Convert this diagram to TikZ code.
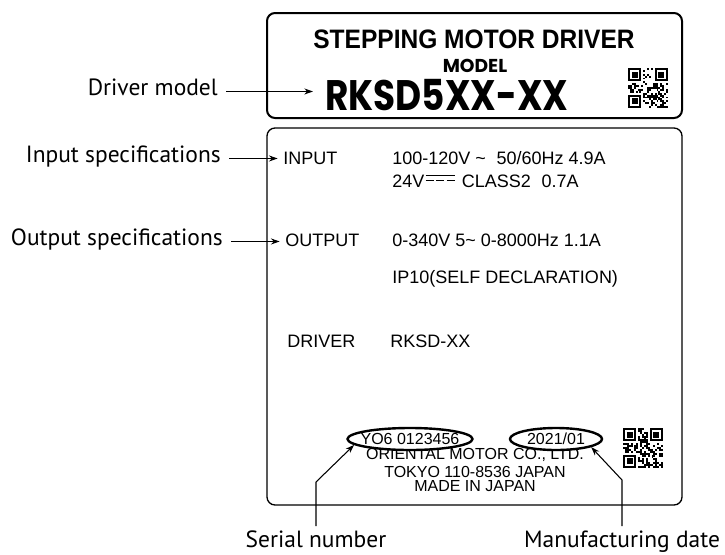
\documentclass[tikz,border=0pt]{standalone}
\usepackage{fontspec}
\usepackage{graphicx}
\setmainfont{Liberation Sans}
\newfontfamily\labfont{PT Sans}
\newfontfamily\platefont{Poppins}
\usetikzlibrary{arrows.meta,shapes.geometric,calc}

% small square code: x, y, seed
\newcommand{\qrpatch}[3]{%
  \pgfmathsetseed{#3}%
  \foreach \qi in {0,...,20}{\foreach \qj in {0,...,20}{%
    \pgfmathtruncatemacro\qbit{rnd<0.48?1:0}%
    \ifnum\qbit=1 \fill ({#1+\qi*1.9},{#2+\qj*1.9}) rectangle ++(1.9,1.9);\fi}}%
  \foreach \fx/\fy in {0/0,14/0,0/14}{%
    \fill[white] ({#1+\fx*1.9-1.9},{#2+\fy*1.9-1.9}) rectangle ++(17.1,17.1);
    \fill ({#1+\fx*1.9},{#2+\fy*1.9}) rectangle ++(13.3,13.3);
    \fill[white] ({#1+\fx*1.9+1.9},{#2+\fy*1.9+1.9}) rectangle ++(9.5,9.5);
    \fill ({#1+\fx*1.9+3.8},{#2+\fy*1.9+3.8}) rectangle ++(5.7,5.7);
  }}

\begin{document}
\begin{tikzpicture}[x=0.75pt,y=0.75pt,yscale=-1,xscale=1,
    ptr/.style={-{Stealth[length=6.5pt,width=4.5pt]},line width=0.8pt,shorten <=6pt},
    lab/.style={font=\labfont\fontsize{17.6}{19}\selectfont,inner sep=0pt},
    spec/.style={font=\fontsize{13.5}{15}\selectfont,inner sep=0pt},
    fine/.style={font=\fontsize{12}{14}\selectfont,inner sep=0pt},
    ring/.style={draw,ellipse,fill=white,line width=1.8pt,inner sep=0pt,minimum height=16.5pt}]

    \useasboundingbox (0,0) rectangle (725,554);

    % the two plates
    \draw [rounded corners=6pt,line width=1.5pt] (267,13) rectangle (682,118);
    \draw [rounded corners=6pt,line width=1pt] (267,128) rectangle (682,505);

    % upper plate
    \node (title) [font=\fontsize{20}{22}\selectfont\bfseries,inner sep=0pt] at (474,39.5) {\scalebox{0.92}[1]{STEPPING MOTOR DRIVER}};
    \node (modelhd) [font=\platefont\fontsize{14}{16}\selectfont\bfseries,inner sep=0pt] at (475,66) {MODEL};
    \node (model) [font=\platefont\fontsize{32}{34}\selectfont\bfseries,inner sep=0pt,anchor=west] at (325,95) {\scalebox{0.84}[1]{RKSD5XX-XX}};
    \qrpatch{628}{68}{17}

    % lower plate
    \node (input) [spec,anchor=base west] at (283,164) {INPUT};
    \node (acin) [spec,anchor=base west] at (392,164) {100-120V \textasciitilde\hspace{0.6em}50/60Hz 4.9A};
    \node (dcv) [spec,anchor=base west] at (392,187) {24V};
    \draw [line width=0.7pt] ($(dcv.base east)+(1,-11.6)$) -- ++(29,0);
    \draw [line width=0.7pt,dash pattern=on 6pt off 1.9pt] ($(dcv.base east)+(1,-6.6)$) -- ++(29,0);
    \node (dcin) [spec,anchor=base west] at ($(dcv.base east)+(37,0)$) {CLASS2\hspace{0.6em}0.7A};
    \node (output) [spec,anchor=base west] at (285,246) {OUTPUT};
    \node (acout) [spec,anchor=base west] at (392,246) {0-340V 5\textasciitilde\ 0-8000Hz 1.1A};
    \node (ipcode) [spec,anchor=base west] at (392,283) {IP10(SELF DECLARATION)};
    \node (drv) [spec,anchor=base west] at (287,347) {DRIVER};
    \node (drvtype) [spec,anchor=base west] at (390,347) {RKSD-XX};

    \node (maker) [fine,anchor=base] at (475,459) {ORIENTAL MOTOR CO., LTD.};
    \node (city) [fine,anchor=base] at (475,477) {TOKYO 110-8536 JAPAN};
    \node (origin) [fine,anchor=base] at (475,491) {MADE IN JAPAN};
    \node (serial) [ring,minimum width=93.75pt] at (410,439) {};
    \node (serno) [fine] at (serial) {YO6 0123456};
    \node (date) [ring,minimum width=69pt] at (556,439) {};
    \node (dateno) [fine] at (date) {2021/01};
    \qrpatch{623}{428}{41}

    % callouts
    \node (drvlab) [lab,anchor=base east] at (218,95) {Driver model};
    \node (inlab) [lab,anchor=base east] at (221,162) {Input specifications};
    \node (outlab) [lab,anchor=base east] at (223,245) {Output specifications};
    \node (serlab) [lab,anchor=base] at (316,547) {Serial number};
    \node (mfglab) [lab,anchor=base] at (622,547) {Manufacturing date};

    \draw [ptr,shorten >=9pt] (drvlab.mid east) -- (drvlab.mid east -| model.west);
    \draw [ptr,shorten >=4pt] (inlab.mid east) -- (inlab.mid east -| input.west);
    \draw [ptr,shorten >=4pt] (outlab.mid east) -- (outlab.mid east -| output.west);
    \coordinate (serbend) at (316,482);
    \draw [ptr,shorten <=3pt] (serlab.north) -- (serbend) -- (serial.186);
    \coordinate (mfgbend) at (622,480);
    \draw [ptr,shorten <=3pt] (mfglab.north) -- (mfglab.north |- mfgbend) -- (date.347);

\end{tikzpicture}
\end{document}
